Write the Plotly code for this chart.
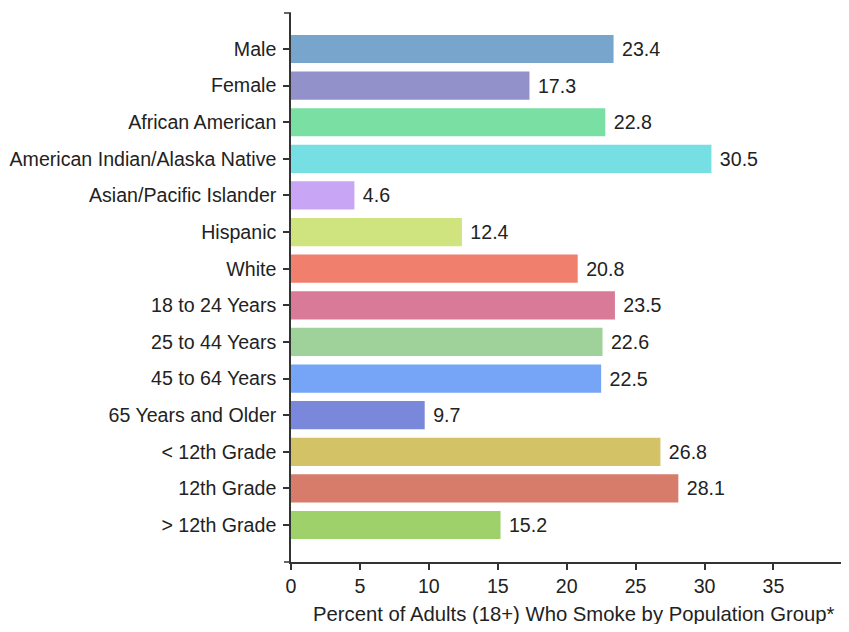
import plotly.graph_objects as go

categories = ["Male", "Female", "African American", "American Indian/Alaska Native",
              "Asian/Pacific Islander", "Hispanic", "White", "18 to 24 Years",
              "25 to 44 Years", "45 to 64 Years", "65 Years and Older",
              "< 12th Grade", "12th Grade", "> 12th Grade"]
values = [23.4, 17.3, 22.8, 30.5, 4.6, 12.4, 20.8, 23.5, 22.6, 22.5, 9.7, 26.8, 28.1, 15.2]
colors = ["#77a5cc", "#9391ca", "#7adfa3", "#76dfe4", "#c9a5f5", "#cfe37f", "#f07f6d",
          "#d97b98", "#9fd29a", "#76a5f8", "#7a88dc", "#d4c266", "#d77b6b", "#9fd16a"]
x_ticks = [0, 5, 10, 15, 20, 25, 30, 35]
x_ticktext = ["0", "5", "10", "15", "20", "25", "30", "35"]
axis_title = "Percent of Adults (18+) Who Smoke by Population Group*"

FONT = "Liberation Sans, Arial, sans-serif"
TXT = "#222222"
AX = "#333333"
FS = 19.6

fig = go.Figure(go.Bar(
    x=values, y=categories, orientation="h",
    marker=dict(color=colors, line=dict(width=0)),
    width=0.77,
    text=[f"\u00a0{v:.1f}" for v in values], textposition="outside",
    textfont=dict(family=FONT, size=FS, color=TXT),
    cliponaxis=False,
))

fig.update_layout(
    width=833, height=616,
    margin=dict(l=283, r=0, t=5, b=62, autoexpand=False),
    plot_bgcolor="white", paper_bgcolor="white",
    showlegend=False,
    font=dict(family=FONT, size=FS, color=TXT),
    xaxis=dict(range=[0, 39.9], tickvals=x_ticks, ticktext=x_ticktext, automargin=False,
               showgrid=False, zeroline=False, showline=True, linecolor=AX, linewidth=1.5,
               ticks="outside", ticklen=6, tickcolor=AX, tickwidth=1.5,
               tickfont=dict(family=FONT, size=FS, color=TXT)),
    yaxis=dict(type="category", categoryorder="array", categoryarray=categories,
               range=[14.01, -0.983], automargin=False,
               showgrid=False, zeroline=False, showline=True, linecolor=AX, linewidth=1.5,
               ticks="outside", ticklen=6, tickcolor=AX, tickwidth=1.5,
               ticklabelstandoff=3,
               tickfont=dict(family=FONT, size=FS, color=TXT)),
    annotations=[dict(text=axis_title, xref="paper", yref="paper", x=0.5145, y=0,
                      xanchor="center", yanchor="bottom", yshift=-65, showarrow=False,
                      font=dict(family=FONT, size=20.3, color=TXT))],
    shapes=[
        dict(type="line", xref="paper", yref="paper", x0=-7/550, x1=0, y0=1, y1=1,
             line=dict(color=AX, width=1.5)),
        dict(type="line", xref="paper", yref="paper", x0=-7/550, x1=0, y0=0, y1=0,
             line=dict(color=AX, width=1.5)),
    ],
)

fig.write_html("out.html")
